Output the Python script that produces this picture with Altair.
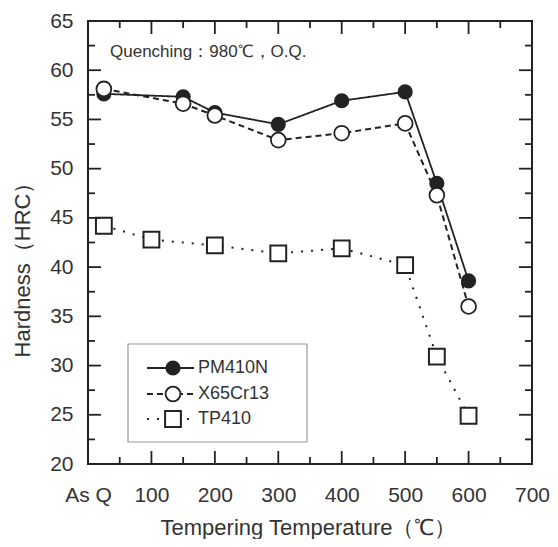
import altair as alt
import pandas as pd

# ---- data ----
series_names = ["PM410N", "X65Cr13", "TP410"]
temps_main = [25, 150, 200, 300, 400, 500, 550, 600]   # 25 = "As Q"
pm410n = [57.6, 57.3, 55.7, 54.5, 56.9, 57.8, 48.5, 38.6]
x65cr13 = [58.1, 56.6, 55.4, 52.9, 53.6, 54.6, 47.3, 36.0]
temps_tp = [25, 100, 200, 300, 400, 500, 550, 600]
tp410 = [44.2, 42.8, 42.2, 41.4, 41.9, 40.2, 30.9, 24.9]

x_major = [0, 100, 200, 300, 400, 500, 600, 700]
x_minor = [50, 150, 250, 350, 450, 550, 650]
y_major = [20, 25, 30, 35, 40, 45, 50, 55, 60, 65]
y_minor = [22.5, 27.5, 32.5, 37.5, 42.5, 47.5, 52.5, 57.5, 62.5]

W, H = 444, 443
XMIN, XMAX, YMIN, YMAX = 0, 700, 20, 65
INK = "#222222"
FONT = "Liberation Sans"

df_pm = pd.DataFrame({"temp": temps_main, "hrc": pm410n})
df_x65 = pd.DataFrame({"temp": temps_main, "hrc": x65cr13})
df_tp = pd.DataFrame({"temp": temps_tp, "hrc": tp410})

xscale = alt.Scale(domain=[XMIN, XMAX], nice=False, zero=False)
yscale = alt.Scale(domain=[YMIN, YMAX], nice=False, zero=False)

x_enc = alt.X("temp:Q", scale=xscale,
              axis=alt.Axis(values=x_major, labelExpr="datum.value == 0 ? 'As Q' : datum.label",
                            labelOverlap=False, labelFlush=False,
                            title="Tempering Temperature（℃）", titleX=220, titleY=63,
                            titleBaseline="middle", titleAlign="center"))
y_enc = alt.Y("hrc:Q", scale=yscale,
              axis=alt.Axis(values=y_major, labelOverlap=False, labelFlush=False,
                            title="Hardness（HRC）", titleX=-66, titleY=243,
                            titleAngle=270, titleBaseline="middle", titleAlign="center"))


def line(df, dash, width):
    return alt.Chart(df).mark_line(color=INK, strokeWidth=width, strokeDash=dash).encode(x=x_enc, y=y_enc)


l_pm = line(df_pm, [1, 0], 1.8)
l_x65 = line(df_x65, [6, 4], 2)
l_tp = line(df_tp, [2, 8], 2)

p_pm = alt.Chart(df_pm).mark_point(shape="circle", filled=True, color=INK, size=230, opacity=1).encode(x=x_enc, y=y_enc)
p_x65 = alt.Chart(df_x65).mark_point(shape="circle", filled=True, fill="white", stroke=INK,
                                      strokeWidth=1.8, size=220, opacity=1).encode(x=x_enc, y=y_enc)
p_tp = alt.Chart(df_tp).mark_point(shape="square", filled=True, fill="white", stroke=INK,
                                    strokeWidth=2, size=250, opacity=1).encode(x=x_enc, y=y_enc)

# ---- inward ticks on all four sides, as thin filled rects at the tick values ----
one = pd.DataFrame({"a": [0]})
TW = 0.9  # half tick thickness


def xpix(v):
    return (v - XMIN) / (XMAX - XMIN) * W


def ypix(v):
    return H - (v - YMIN) / (YMAX - YMIN) * H


def trect(x0, x1, y0, y1):
    return alt.Chart(one).mark_rect(fill=INK, strokeWidth=0, opacity=1).encode(
        x=alt.value(x0), x2=alt.value(x1), y=alt.value(y0), y2=alt.value(y1))


tick_layers = []
for vals, ln in ((x_major, 13), (x_minor, 7)):
    for v in vals:
        px = xpix(v)
        tick_layers.append(trect(px - TW, px + TW, H - ln, H))
        tick_layers.append(trect(px - TW, px + TW, 0, ln))
for vals, ln in ((y_major, 13), (y_minor, 7)):
    for v in vals:
        py = ypix(v)
        tick_layers.append(trect(0, ln, py - TW, py + TW))
        tick_layers.append(trect(W - ln, W, py - TW, py + TW))

# ---- annotation ----
note = alt.Chart(pd.DataFrame({"t": ["Quenching：980℃，O.Q."]})).mark_text(
    align="left", baseline="middle", font=FONT, fontSize=17, color="#333333"
).encode(text="t:N", x=alt.value(22), y=alt.value(31))

# ---- legend (hand drawn) ----
leg_box = alt.Chart(pd.DataFrame({"a": [0]})).mark_rect(
    fill="white", stroke="#999999", strokeWidth=1.2
).encode(x=alt.value(40), x2=alt.value(219), y=alt.value(323), y2=alt.value(421))

rows_y = [347, 373, 398]
dashes = [[1, 0], [6, 4], [2, 8]]
legend_layers = [leg_box]
for i, name in enumerate(series_names):
    ry = rows_y[i]
    dd = pd.DataFrame({"name": [name]})
    legend_layers.append(alt.Chart(dd).mark_rule(color=INK, strokeWidth=1.8, strokeDash=dashes[i]).encode(
        x=alt.value(59), x2=alt.value(106), y=alt.value(ry)))
    if i == 0:
        mk = alt.Chart(dd).mark_point(shape="circle", filled=True, color=INK, size=230, opacity=1)
    elif i == 1:
        mk = alt.Chart(dd).mark_point(shape="circle", filled=True, fill="white", stroke=INK,
                                       strokeWidth=1.8, size=220, opacity=1)
    else:
        mk = alt.Chart(dd).mark_point(shape="square", filled=True, fill="white", stroke=INK,
                                       strokeWidth=2, size=250, opacity=1)
    legend_layers.append(mk.encode(x=alt.value(85), y=alt.value(ry)))
    legend_layers.append(alt.Chart(dd).mark_text(align="left", baseline="middle", font=FONT,
                                                  fontSize=18, color="#333333").encode(
        text="name:N", x=alt.value(110), y=alt.value(ry)))

# ---- plot frame ----
frame = alt.Chart(pd.DataFrame({"a": [0]})).mark_rect(
    fillOpacity=0, stroke=INK, strokeWidth=2
).encode(x=alt.value(0), x2=alt.value(W), y=alt.value(0), y2=alt.value(H))

chart = alt.layer(
    l_tp, l_x65, l_pm, p_tp, p_pm, p_x65, note, *legend_layers, *tick_layers, frame
).properties(
    width=W, height=H,
    autosize=alt.AutoSizeParams(type="none"),
    padding={"left": 80, "top": 13, "right": 18, "bottom": 75},
    background="white",
).configure_view(
    strokeWidth=0
).configure_axis(
    grid=False, ticks=False, domain=False,
    labelFont=FONT, labelFontSize=21, labelColor="#333333",
    titleFont=FONT, titleFontSize=22, titleColor="#333333", titleFontWeight="normal",
).configure_axisX(labelPadding=20).configure_axisY(labelPadding=15)

chart.save("out.html", embed_options={"renderer": "svg", "actions": False})
